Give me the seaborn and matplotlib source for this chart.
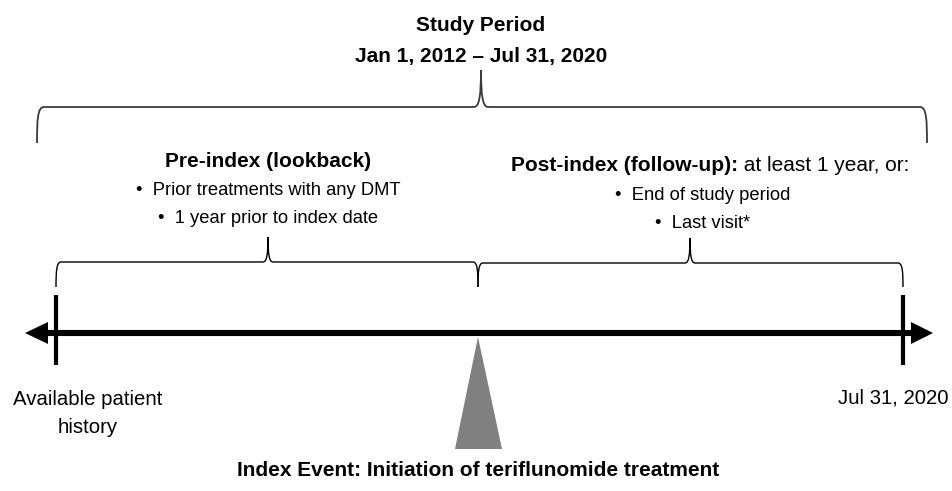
import numpy as np
import matplotlib
matplotlib.use('Agg')
import matplotlib.pyplot as plt
from matplotlib.path import Path
from matplotlib.patches import PathPatch
import seaborn as sns

# text content of the diagram
study_title = ['Study Period', 'Jan 1, 2012 \u2013 Jul 31, 2020']
pre_title = 'Pre-index (lookback)'
pre_items = ['Prior treatments with any DMT', '1 year prior to index date']
post_title = 'Post-index (follow-up):'
post_note = ' at least 1 year, or:'
post_items = ['End of study period', 'Last visit*']
left_label = ['Available patient', 'history']
right_label = 'Jul 31, 2020'
index_label = 'Index Event: Initiation of teriflunomide treatment'

sns.set_theme(style='white')
plt.rcParams['font.family'] = ['Liberation Sans', 'DejaVu Sans']
plt.rcParams['text.color'] = 'black'
FS_B = 15      # bold headings
FS_R = 15      # regular labels
FS_L = 13.2    # bullet items

W, H = 953, 491
fig = plt.figure(figsize=(W / 100, H / 100), dpi=100)
ax = fig.add_axes([0, 0, 1, 1])
ax.set_xlim(0, W)
ax.set_ylim(H, 0)
ax.axis('off')

# layout (pixel units)
hist_x, index_x, end_x = 56, 478, 903
line_y = 333


def brace(x0, x1, xm, y_end, y_h, y_tip, r=6, rt=6, color='black', lw=1.0):
    d = y_end - y_h
    t = y_h - y_tip
    verts = [
        (x0, y_end),
        (x0, y_h + 0.35 * d), (x0 + 0.6, y_h), (x0 + r, y_h),
        (xm - rt, y_h),
        (xm - 0.25 * rt, y_h), (xm, y_h - 0.3 * t), (xm, y_tip),
        (xm, y_h - 0.3 * t), (xm + 0.25 * rt, y_h), (xm + rt, y_h),
        (x1 - r, y_h),
        (x1 - 0.6, y_h), (x1, y_h + 0.35 * d), (x1, y_end),
    ]
    codes = [Path.MOVETO] + [Path.CURVE4] * 3 + [Path.LINETO] + [Path.CURVE4] * 6 \
        + [Path.LINETO] + [Path.CURVE4] * 3
    ax.add_patch(PathPatch(Path(verts, codes), fill=False, edgecolor=color,
                           lw=lw, capstyle='butt'))


# study period brace and title
brace(37, 927, 481, 143, 107, 70, r=7, rt=7, color='#3a3a3a', lw=1.3)
ax.text(481, 31, study_title[0], ha='center', va='baseline', fontsize=FS_B, fontweight='bold')
ax.text(481, 62, study_title[1], ha='center', va='baseline', fontsize=FS_B, fontweight='bold')

# pre-index block
pre_cx = 268
ax.text(pre_cx, 167, pre_title, ha='center', va='baseline', fontsize=FS_B, fontweight='bold')
for i, item in enumerate(pre_items):
    ax.text(pre_cx, 195 + 28 * i, '\u2022  ' + item, ha='center', va='baseline', fontsize=FS_L)

# post-index block (bold + regular on one line)
post_cx = 710
tb = ax.text(0, 171, post_title, ha='left', va='baseline', fontsize=FS_B, fontweight='bold')
tr = ax.text(0, 171, post_note, ha='left', va='baseline', fontsize=FS_R)
fig.canvas.draw()
inv = ax.transData.inverted()
def width(t):
    bb = t.get_window_extent()
    return inv.transform((bb.x1, 0))[0] - inv.transform((bb.x0, 0))[0]
w1, w2 = width(tb), width(tr)
x_start = post_cx - (w1 + w2) / 2
tb.set_x(x_start)
tr.set_x(x_start + w1)
for i, item in enumerate(post_items):
    ax.text(703, 200 + 28 * i, '\u2022  ' + item, ha='center', va='baseline', fontsize=FS_L)

# lower braces
brace(hist_x, index_x, 268, 287, 262, 237, r=5, rt=5, lw=1.0)
brace(index_x, end_x, 690, 287, 263, 238, r=5, rt=5, lw=1.0)

# timeline with arrows
ax.plot([46, 913], [line_y, line_y], color='black', lw=4.4, solid_capstyle='butt')
ax.fill([25, 48, 48], [line_y, line_y - 11, line_y + 11], color='black', lw=0)
ax.fill([933, 911, 911], [line_y, line_y - 11, line_y + 11], color='black', lw=0)
for x in (hist_x, end_x):
    ax.plot([x, x], [295, 365], color='black', lw=3.0, solid_capstyle='butt')

# index event triangle
ax.fill([index_x, 455, 502], [337, 449, 449], color='#808080', lw=0)

# labels
ax.text(88, 405, left_label[0], ha='center', va='baseline', fontsize=FS_R - 0.3)
ax.text(88, 433, left_label[1], ha='center', va='baseline', fontsize=FS_R - 0.3)
ax.text(893, 403, right_label, ha='center', va='baseline', fontsize=FS_R - 0.3)
ax.text(index_x, 476, index_label, ha='center', va='baseline', fontsize=FS_B, fontweight='bold')

fig.savefig('out.png', dpi=100, facecolor='white')
